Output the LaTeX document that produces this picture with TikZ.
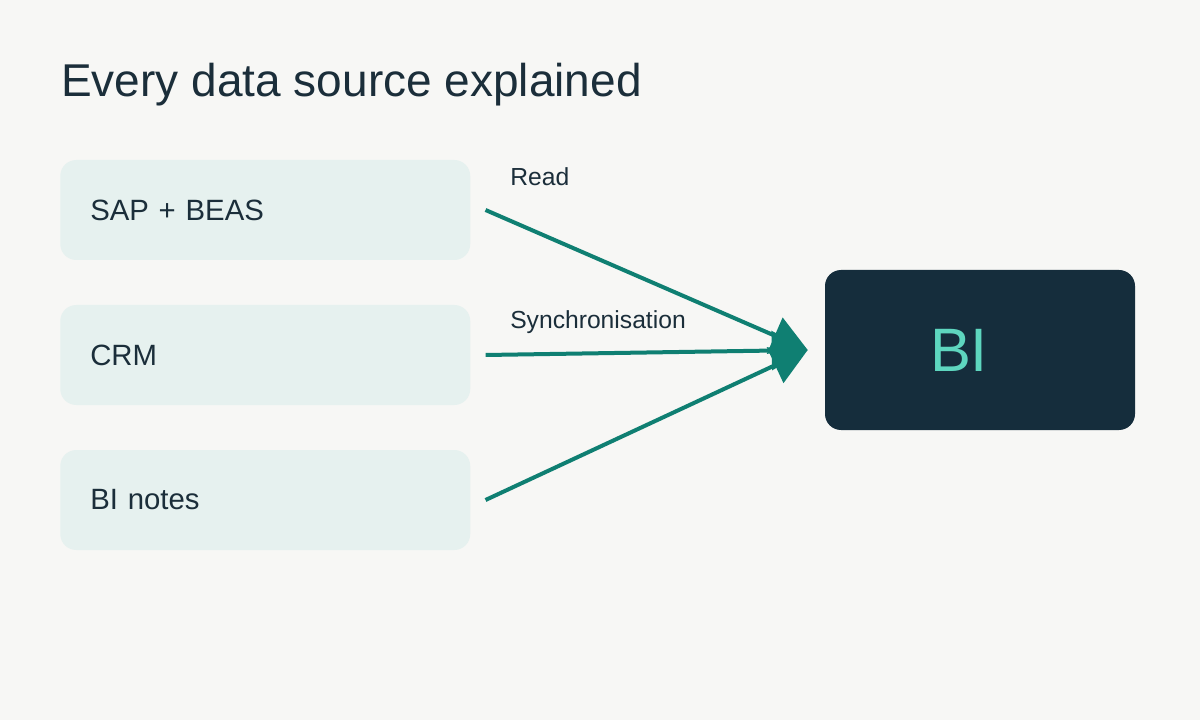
\documentclass[tikz,border=0pt]{standalone}
\usepackage{fontspec}
\setmainfont{Liberation Sans}
\usetikzlibrary{arrows.meta}

\definecolor{pagebg}{HTML}{F7F7F5}
\definecolor{srcfill}{HTML}{E6F1EF}
\definecolor{inkdark}{HTML}{1B2E3A}
\definecolor{bifill}{HTML}{152D3C}
\definecolor{bitext}{HTML}{5ED6BF}
\definecolor{flowteal}{HTML}{0F7F72}

\tikzset{
	srcbox/.style={fill=srcfill, rounded corners=12pt, anchor=west, minimum height=75pt, text width=262.5pt, inner xsep=22.5pt, inner ysep=0pt, align=left, text=inkdark, font=\fontsize{22}{26}\selectfont},
	targetbox/.style={fill=bifill, rounded corners=12pt, minimum height=120pt, text width=75pt, inner xsep=78.75pt, inner ysep=0pt, align=left, text=bitext, font=\fontsize{46}{50}\selectfont},
	flow/.style={draw=flowteal, line width=3pt, -{Triangle[length=27pt, width=29pt]}},
	flowlabel/.style={anchor=west, inner sep=0pt, text=inkdark, font=\fontsize{18.5}{22}\selectfont}
}

\begin{document}
\begin{tikzpicture}[x=0.75pt, y=-0.75pt]
	\fill[pagebg] (0,0) rectangle (1200,720);
	\useasboundingbox (0,0) rectangle (1200,720);
	\node[anchor=base west, inner sep=0pt, text=inkdark, font=\fontsize{34.5}{40}\selectfont] (title) at (61,97) {Every data source explained};
	\node[srcbox] (sap) at (60,210) {SAP + BEAS};
	\node[srcbox] (crm) at (60,355) {CRM};
	\node[srcbox] (notes) at (60,500) {BI notes};
	\node[targetbox] (bi) at (980,350) {BI};
	\draw[flow] ([xshift=11.25pt]sap.east) -- ([xshift=-12.75pt]bi.west);
	\draw[flow] ([xshift=11.25pt]crm.east) -- ([xshift=-12.75pt]bi.west);
	\draw[flow] ([xshift=11.25pt]notes.east) -- ([xshift=-12.75pt]bi.west);
	\node[flowlabel] (readlbl) at (510,177) {Read};
	\node[flowlabel] (synclbl) at (510,322) {Synchronisation};
\end{tikzpicture}
\end{document}
